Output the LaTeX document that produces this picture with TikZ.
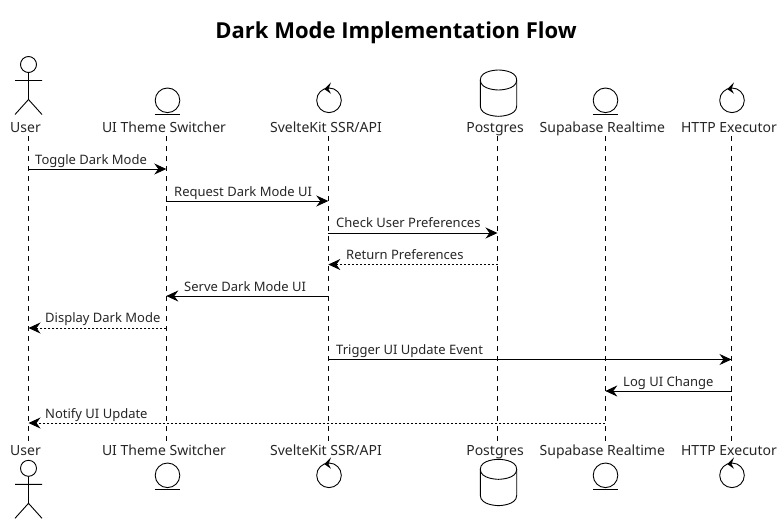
\documentclass[tikz,border=0pt]{standalone}
\usepackage{fontspec}
\setmainfont{Noto Sans}
\newfontfamily\titlefont{Open Sans}
\usetikzlibrary{arrows.meta}
\tikzset{
  x=1pt,y=-1pt,
  who/.style={inner sep=0pt,anchor=base,font=\fontsize{14}{16}\selectfont,text=black!85},
  say/.style={inner sep=0pt,anchor=base west,font=\fontsize{13}{15}\selectfont,text=black!85},
  shapeline/.style={draw=black,line width=0.9pt},
  life/.style={draw=black,line width=0.75pt,dash pattern=on 5pt off 5pt},
  tip/.style={-{Stealth[length=12pt,width=11pt,inset=4pt]}},
  sync/.style={draw=black,line width=0.9pt,tip},
  back/.style={draw=black,line width=0.9pt,tip,dash pattern=on 2pt off 2pt},
}
\newcommand{\stick}[2]{%
  \draw[shapeline] (#1,#2) circle (8);
  \draw[shapeline] (#1,#2+8) -- (#1,#2+35) (#1-13.5,#2+16) -- (#1+13.5,#2+16)
    (#1-13.5,#2+50) -- (#1,#2+35) -- (#1+13.5,#2+50);}
\newcommand{\bound}[2]{%
  \draw[shapeline] (#1,#2) circle (12.3);
  \draw[shapeline] (#1-12.5,#2+14) -- (#1+12.5,#2+14);}
\newcommand{\ctrl}[2]{%
  \draw[shapeline] (#1,#2) circle (12.3);
  \fill[black] (#1-4.8,#2-11.2) -- (#1+2,#2-18) -- (#1-0.5,#2-11.2) -- (#1+2,#2-6.6) -- cycle;}
\newcommand{\dbase}[2]{%
  \draw[shapeline] (#1-18.2,#2+10) .. controls (#1-18.2,#2) and (#1,#2) .. (#1,#2)
     .. controls (#1,#2) and (#1+18.2,#2) .. (#1+18.2,#2+10)
     -- (#1+18.2,#2+36) .. controls (#1+18.2,#2+46.3) and (#1,#2+46.3) .. (#1,#2+46.3)
     .. controls (#1,#2+46.3) and (#1-18.2,#2+46.3) .. (#1-18.2,#2+36) -- cycle;
  \draw[shapeline] (#1-18.2,#2+10) .. controls (#1-18.2,#2+20) and (#1,#2+20) .. (#1,#2+20)
     .. controls (#1,#2+20) and (#1+18.2,#2+20) .. (#1+18.2,#2+10);}
\begin{document}
\begin{tikzpicture}
\useasboundingbox (0,0) rectangle (783,524);
\node[inner sep=0pt,anchor=base,font=\titlefont\bfseries\fontsize{22}{26}\selectfont] (title) at (396,39) {Dark Mode Implementation Flow};

\stick{28.5}{64.5}
\bound{167.5}{100.3}
\ctrl{329}{100.3}
\dbase{498.5}{70}
\bound{605.5}{100.3}
\ctrl{732}{100.3}

\node[who] (userT) at (25.5,132) {User};
\node[who] (themeT) at (164,132) {UI Theme Switcher};
\node[who] (svelteT) at (326,132) {SvelteKit SSR/API};
\node[who] (pgT) at (495,132) {Postgres};
\node[who] (supaT) at (602.3,132) {Supabase Realtime};
\node[who] (httpT) at (729,132) {HTTP Executor};

\node[who] (userB) at (25.5,455) {User};
\node[who] (themeB) at (164,455) {UI Theme Switcher};
\node[who] (svelteB) at (326,455) {SvelteKit SSR/API};
\node[who] (pgB) at (495,455) {Postgres};
\node[who] (supaB) at (602.3,455) {Supabase Realtime};
\node[who] (httpB) at (729,455) {HTTP Executor};

\stick{28.5}{468.3}
\bound{167.5}{475.3}
\ctrl{329}{475.3}
\dbase{498.5}{459.3}
\bound{605.5}{475.3}
\ctrl{732}{475.3}

\coordinate (user) at (28.5,136);
\coordinate (theme) at (166.3,136);
\coordinate (svelte) at (328.3,136);
\coordinate (pg) at (497.5,136);
\coordinate (supa) at (605.3,136);
\coordinate (http) at (731.5,136);
\foreach \p in {user,theme,svelte,pg,supa,http}
  \draw[life] (\p) -- (\p |- 0,442);

\coordinate (r1) at (0,169);
\coordinate (r2) at (0,201);
\coordinate (r3) at (0,233);
\coordinate (r4) at (0,264.5);
\coordinate (r5) at (0,296);
\coordinate (r6) at (0,328);
\coordinate (r7) at (0,359.5);
\coordinate (r8) at (0,391);
\coordinate (r9) at (0,423);

\draw[sync] (user |- r1) -- (theme |- r1);
\draw[sync] (theme |- r2) -- (svelte |- r2);
\draw[sync] (svelte |- r3) -- (pg |- r3);
\draw[back] (pg |- r4) -- (svelte |- r4);
\draw[sync] (svelte |- r5) -- (theme |- r5);
\draw[back] (theme |- r6) -- (user |- r6);
\draw[sync] (svelte |- r7) -- (http |- r7);
\draw[sync] (http |- r8) -- (supa |- r8);
\draw[back] (supa |- r9) -- (user |- r9);

\node[say] (l1) at (35,164) {Toggle Dark Mode};
\node[say] (l2) at (174,196) {Request Dark Mode UI};
\node[say] (l3) at (336,227) {Check User Preferences};
\node[say] (l4) at (346,259) {Return Preferences};
\node[say] (l5) at (184,291) {Serve Dark Mode UI};
\node[say] (l6) at (45,322) {Display Dark Mode};
\node[say] (l7) at (336,354) {Trigger UI Update Event};
\node[say] (l8) at (623,386) {Log UI Change};
\node[say] (l9) at (45,418) {Notify UI Update};
\end{tikzpicture}
\end{document}
